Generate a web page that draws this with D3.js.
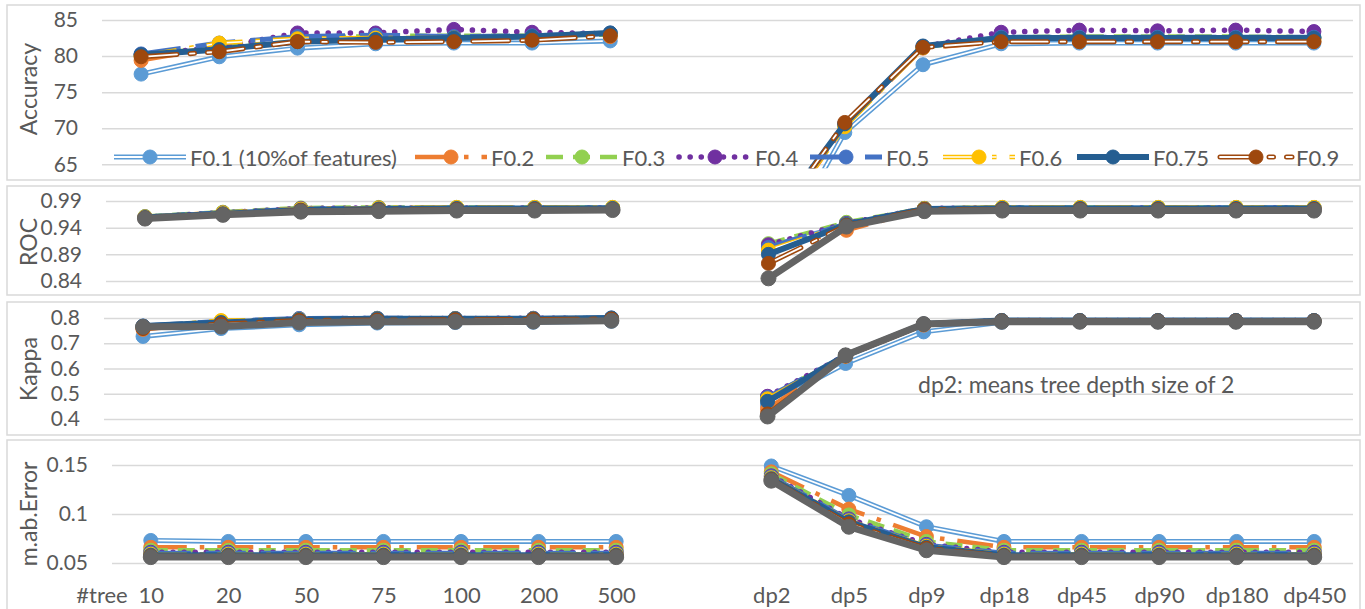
<!DOCTYPE html>
<html>
<head>
<meta charset="utf-8">
<script src="https://cdn.jsdelivr.net/npm/d3@7"></script>
<style>
  html, body { margin: 0; padding: 0; background: #fff; }
  svg { display: block; }
  text { font-family: Lato, "Open Sans", sans-serif; fill: #595959; }
</style>
</head>
<body>
<svg id="chart" width="1365" height="609"></svg>
<script>
// ---- categories (x axis) ----
const categories = ["10", "20", "50", "75", "100", "200", "500", "",
                    "dp2", "dp5", "dp9", "dp18", "dp45", "dp90", "dp180", "dp450"];

// ---- series names (legend) ----
const seriesNames = ["F0.1 (10%of features)", "F0.2", "F0.3", "F0.4", "F0.5", "F0.6", "F0.75", "F0.9"];
const extraSeriesName = "F1.0";

// ---- tick values ----
const accuracyTicks = [65, 70, 75, 80, 85];
const rocTicks = [0.84, 0.89, 0.94, 0.99];
const kappaTicks = [0.4, 0.5, 0.6, 0.7, 0.8];
const maeTicks = [0.05, 0.1, 0.15];

// ---- Accuracy ----
const accF01  = [77.5, 79.9, 81.1, 81.7, 81.8, 81.8, 82.1, null, 50.0, 69.4, 78.8, 81.7, 81.8, 81.8, 81.8, 81.8];
const accF02  = [79.4, 81.3, 82.1, 82.0, 82.2, 82.4, 82.7, null, 55.0, 70.3, 81.1, 82.0, 82.0, 82.0, 82.0, 82.0];
const accF03  = [80.1, 81.3, 82.5, 82.8, 82.8, 82.8, 83.0, null, 56.0, 70.5, 81.2, 82.6, 82.7, 82.7, 82.7, 82.6];
const accF04  = [80.2, 81.2, 83.2, 83.2, 83.7, 83.3, 83.1, null, 56.0, 70.6, 81.3, 83.3, 83.6, 83.5, 83.6, 83.4];
const accF05  = [80.3, 81.8, 82.7, 82.9, 82.7, 82.8, 83.2, null, 56.0, 70.5, 81.3, 82.6, 82.6, 82.6, 82.6, 82.6];
const accF06  = [80.0, 81.8, 82.4, 82.5, 82.5, 82.6, 83.0, null, 55.5, 70.2, 81.2, 82.2, 82.3, 82.3, 82.3, 82.3];
const accF075 = [80.2, 80.9, 82.0, 82.3, 82.5, 82.7, 83.2, null, 56.0, 70.6, 81.4, 82.5, 82.5, 82.5, 82.5, 82.5];
const accF09  = [79.9, 80.6, 82.0, 81.9, 82.0, 82.2, 82.8, null, 55.5, 70.8, 81.2, 82.0, 82.0, 82.0, 82.0, 82.0];

// ---- ROC ----
const rocF01  = [0.960, 0.967, 0.974, 0.975, 0.976, 0.976, 0.977, null, 0.905, 0.945, 0.975, 0.977, 0.977, 0.977, 0.977, 0.977];
const rocF02  = [0.960, 0.968, 0.975, 0.976, 0.977, 0.977, 0.977, null, 0.900, 0.935, 0.975, 0.977, 0.977, 0.977, 0.977, 0.977];
const rocF03  = [0.961, 0.969, 0.977, 0.978, 0.978, 0.978, 0.978, null, 0.910, 0.950, 0.976, 0.978, 0.978, 0.978, 0.978, 0.978];
const rocF04  = [0.960, 0.968, 0.976, 0.977, 0.977, 0.977, 0.977, null, 0.908, 0.948, 0.976, 0.977, 0.977, 0.977, 0.977, 0.977];
const rocF05  = [0.960, 0.968, 0.975, 0.976, 0.977, 0.977, 0.977, null, 0.903, 0.947, 0.976, 0.977, 0.977, 0.977, 0.977, 0.977];
const rocF06  = [0.960, 0.968, 0.975, 0.977, 0.978, 0.978, 0.978, null, 0.898, 0.946, 0.976, 0.978, 0.978, 0.978, 0.978, 0.978];
const rocF075 = [0.959, 0.966, 0.973, 0.975, 0.976, 0.976, 0.976, null, 0.890, 0.946, 0.975, 0.976, 0.976, 0.976, 0.976, 0.976];
const rocF09  = [0.958, 0.965, 0.972, 0.973, 0.974, 0.974, 0.974, null, 0.873, 0.944, 0.974, 0.974, 0.974, 0.974, 0.974, 0.974];
const rocF10  = [0.957, 0.964, 0.970, 0.971, 0.972, 0.972, 0.973, null, 0.845, 0.942, 0.971, 0.972, 0.972, 0.972, 0.972, 0.972];

// ---- Kappa ----
const kapF01  = [0.727, 0.758, 0.773, 0.780, 0.782, 0.783, 0.787, null, 0.455, 0.620, 0.745, 0.783, 0.785, 0.785, 0.785, 0.785];
const kapF02  = [0.755, 0.785, 0.792, 0.793, 0.794, 0.795, 0.796, null, 0.440, 0.648, 0.772, 0.788, 0.788, 0.788, 0.788, 0.788];
const kapF03  = [0.765, 0.785, 0.795, 0.797, 0.797, 0.797, 0.798, null, 0.485, 0.652, 0.776, 0.790, 0.790, 0.790, 0.790, 0.790];
const kapF04  = [0.765, 0.784, 0.797, 0.798, 0.798, 0.799, 0.798, null, 0.490, 0.652, 0.776, 0.790, 0.790, 0.790, 0.790, 0.790];
const kapF05  = [0.768, 0.787, 0.798, 0.799, 0.798, 0.798, 0.800, null, 0.485, 0.651, 0.776, 0.790, 0.790, 0.790, 0.790, 0.790];
const kapF06  = [0.765, 0.790, 0.795, 0.797, 0.797, 0.797, 0.798, null, 0.480, 0.650, 0.775, 0.789, 0.789, 0.789, 0.789, 0.789];
const kapF075 = [0.768, 0.782, 0.794, 0.797, 0.797, 0.797, 0.800, null, 0.470, 0.652, 0.776, 0.790, 0.790, 0.790, 0.790, 0.790];
const kapF09  = [0.758, 0.776, 0.790, 0.792, 0.793, 0.794, 0.796, null, 0.420, 0.650, 0.775, 0.788, 0.788, 0.788, 0.788, 0.788];
const kapF10  = [0.765, 0.766, 0.782, 0.785, 0.785, 0.786, 0.789, null, 0.410, 0.652, 0.776, 0.785, 0.785, 0.785, 0.785, 0.785];

// ---- mean absolute error ----
const maeF01  = [0.073, 0.072, 0.072, 0.072, 0.072, 0.072, 0.072, null, 0.149, 0.119, 0.087, 0.072, 0.072, 0.072, 0.072, 0.072];
const maeF02  = [0.066, 0.066, 0.066, 0.066, 0.066, 0.066, 0.066, null, 0.143, 0.105, 0.077, 0.066, 0.066, 0.066, 0.066, 0.066];
const maeF03  = [0.063, 0.063, 0.063, 0.063, 0.063, 0.063, 0.063, null, 0.141, 0.099, 0.072, 0.063, 0.063, 0.063, 0.063, 0.063];
const maeF04  = [0.061, 0.061, 0.061, 0.061, 0.061, 0.061, 0.061, null, 0.139, 0.095, 0.069, 0.061, 0.061, 0.061, 0.061, 0.061];
const maeF05  = [0.060, 0.060, 0.060, 0.060, 0.060, 0.060, 0.060, null, 0.138, 0.094, 0.068, 0.060, 0.060, 0.060, 0.060, 0.060];
const maeF06  = [0.059, 0.059, 0.059, 0.059, 0.059, 0.059, 0.059, null, 0.137, 0.093, 0.067, 0.059, 0.059, 0.059, 0.059, 0.059];
const maeF075 = [0.058, 0.058, 0.058, 0.058, 0.058, 0.058, 0.058, null, 0.136, 0.092, 0.066, 0.058, 0.058, 0.058, 0.058, 0.058];
const maeF09  = [0.057, 0.057, 0.057, 0.057, 0.057, 0.057, 0.057, null, 0.135, 0.090, 0.065, 0.057, 0.057, 0.057, 0.057, 0.057];
const maeF10  = [0.056, 0.056, 0.056, 0.056, 0.056, 0.056, 0.056, null, 0.134, 0.087, 0.063, 0.056, 0.056, 0.056, 0.056, 0.056];

// ---- line / marker styles per series (last entry: grey series) ----
const styles = [
  { color: "#5B9BD5", width: 5,   dash: null,               double: true,  r: 7 },
  { color: "#ED7D31", width: 4.5, dash: "36,13,4.5,13",     double: false, r: 7 },
  { color: "#92D050", width: 4.5, dash: "17,10",            double: false, r: 7 },
  { color: "#7030A0", width: 5.5, dash: "0.1,11", cap: "round", double: false, r: 7 },
  { color: "#4472C4", width: 5,   dash: "40,15",            double: false, r: 7 },
  { color: "#FFC000", width: 4.5, dash: "36,13,4.5,13",     double: true,  r: 7 },
  { color: "#255E91", width: 6,   dash: null,               double: false, r: 7 },
  { color: "#9E480E", width: 5,   dash: "36,13,4.5,13", cap: "round", double: true, r: 7 },
  { color: "#646464", width: 7,   dash: null,               double: false, r: 7.5 }
];

const panels = [
  { title: "Accuracy", box: [7, 5, 1360, 180], left: 102, right: 1353, yTop: 20, yBottom: 164.3,
    domain: [65, 85], ticks: accuracyTicks, clip: true, titleY: 89,
    series: [accF01, accF02, accF03, accF04, accF05, accF06, accF075, accF09] },
  { title: "ROC", box: [7, 186, 1360, 295], left: 106, right: 1353, yTop: 201, yBottom: 281,
    domain: [0.84, 0.99], ticks: rocTicks, titleY: 242,
    series: [rocF01, rocF02, rocF03, rocF04, rocF05, rocF06, rocF075, rocF09, rocF10] },
  { title: "Kappa", box: [7, 302, 1360, 435], left: 104, right: 1353, yTop: 318, yBottom: 419,
    domain: [0.4, 0.8], ticks: kappaTicks, titleY: 369,
    series: [kapF01, kapF02, kapF03, kapF04, kapF05, kapF06, kapF075, kapF09, kapF10] },
  { title: "m.ab.Error", box: [7, 440, 1360, 625], left: 112, right: 1353, yTop: 465, yBottom: 563,
    domain: [0.05, 0.15], ticks: maeTicks, titleY: 514, xAxis: true,
    series: [maeF01, maeF02, maeF03, maeF04, maeF05, maeF06, maeF075, maeF09, maeF10] }
];

const svg = d3.select("#chart");
const defs = svg.append("defs");
const fmt = d3.format("~g");

// stroke a path in a series style; compound ("double") lines get a white core
function strokePath(g, d, st) {
  const p = g.append("path").attr("d", d).attr("fill", "none")
    .attr("stroke", st.color).attr("stroke-width", st.width)
    .attr("stroke-linejoin", "round")
    .attr("stroke-linecap", st.cap || "butt");
  if (st.dash) p.attr("stroke-dasharray", st.dash);
  if (st.double) {
    const q = g.append("path").attr("d", d).attr("fill", "none")
      .attr("stroke", "#fff").attr("stroke-width", st.width * 0.36)
      .attr("stroke-linejoin", "round")
      .attr("stroke-linecap", st.cap || "butt");
    if (st.dash) q.attr("stroke-dasharray", st.dash);
  }
}

panels.forEach((pn, pi) => {
  const [bx0, by0, bx1, by1] = pn.box;
  svg.append("rect").attr("x", bx0).attr("y", by0)
    .attr("width", bx1 - bx0).attr("height", by1 - by0)
    .attr("fill", "#fff").attr("stroke", "#D9D9D9").attr("stroke-width", 1.5);

  const x = d3.scalePoint().domain(d3.range(categories.length))
    .range([pn.left, pn.right]).padding(0.5);
  const y = d3.scaleLinear().domain(pn.domain).range([pn.yBottom, pn.yTop]);

  // value axis with gridlines
  const ya = svg.append("g").attr("transform", `translate(${pn.left},0)`)
    .call(d3.axisLeft(y).tickValues(pn.ticks).tickFormat(fmt)
      .tickSize(-(pn.right - pn.left)).tickPadding(24));
  ya.select(".domain").remove();
  ya.selectAll(".tick line").attr("stroke", "#D9D9D9").attr("stroke-width", 1.5);
  ya.selectAll(".tick text").style("font-size", "21px").attr("fill", "#595959");

  // axis title
  svg.append("text")
    .attr("transform", `translate(28,${pn.titleY}) rotate(-90)`)
    .attr("text-anchor", "middle").attr("dominant-baseline", "central")
    .style("font-size", "23px").text(pn.title);

  // category axis labels (bottom panel only)
  if (pn.xAxis) {
    const xa = svg.append("g").attr("transform", `translate(0,${pn.yBottom})`)
      .call(d3.axisBottom(x).tickFormat(i => categories[i]).tickSize(0).tickPadding(24));
    xa.select(".domain").remove();
    xa.selectAll(".tick text").style("font-size", "22px").attr("fill", "#595959");
    svg.append("text").attr("x", 102).attr("y", pn.yBottom + 40)
      .attr("text-anchor", "middle").style("font-size", "22px").text("#tree");
  }

  // plotting group (clipped for the accuracy panel, whose depth-2 values fall below its range)
  const plot = svg.append("g");
  if (pn.clip) {
    const id = "clip" + pi;
    defs.append("clipPath").attr("id", id).append("rect")
      .attr("x", pn.left - 20).attr("y", by0)
      .attr("width", pn.right - pn.left + 40).attr("height", pn.yBottom + 4 - by0);
    plot.attr("clip-path", `url(#${id})`);
  }

  const line = d3.line().defined(d => d != null).x((d, i) => x(i)).y(d => y(d));

  pn.series.forEach((vals, si) => {
    const st = styles[si];
    const g = plot.append("g");
    strokePath(g, line(vals), st);
    const pts = vals.map((v, i) => ({ v, i })).filter(d => d.v != null);
    g.selectAll("circle").data(pts).join("circle")
      .attr("cx", d => x(d.i)).attr("cy", d => y(d.v)).attr("r", st.r)
      .attr("fill", st.color).attr("stroke", st.color).attr("stroke-width", 1);
  });

  if (pi === 0) {
    // legend row inside the accuracy panel
    const legendMarkerX = [150, 451, 582, 715, 846, 979, 1113, 1256];
    const ly = 157;
    seriesNames.forEach((name, si) => {
      const st = styles[si];
      const mx = legendMarkerX[si];
      const g = svg.append("g");
      strokePath(g, `M${mx - 36},${ly}H${mx + 36}`, st);
      g.append("circle").attr("cx", mx).attr("cy", ly).attr("r", st.r)
        .attr("fill", st.color).attr("stroke", st.color);
      g.append("text").attr("x", mx + 40).attr("y", ly)
        .attr("dominant-baseline", "central").style("font-size", "22px").text(name);
    });
  }

  if (pi === 2) {
    svg.append("text").attr("x", 918).attr("y", 384)
      .attr("dominant-baseline", "central").style("font-size", "23px")
      .text("dp2: means tree depth size of 2");
  }
});
</script>
</body>
</html>
